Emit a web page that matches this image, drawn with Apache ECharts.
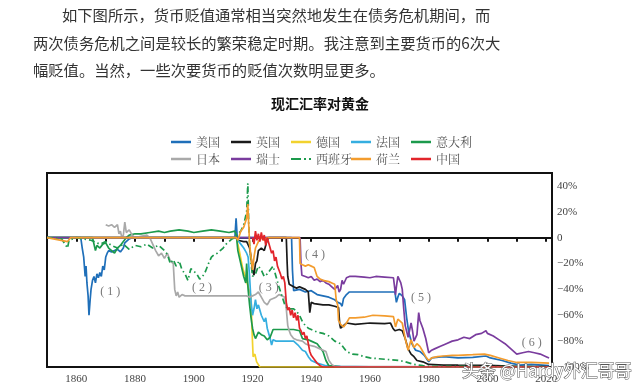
<!DOCTYPE html>
<html><head><meta charset="utf-8">
<script src="https://cdn.jsdelivr.net/npm/echarts@6/dist/echarts.min.js"></script>
<style>html,body{margin:0;padding:0;background:#fff}#c{width:640px;height:391px}</style>
</head><body><div id="c"></div><script>
const paragraph = [
  '如下图所示，货币贬值通常相当突然地发生在债务危机期间，而',
  '两次债务危机之间是较长的繁荣稳定时期。我注意到主要货币的6次大',
  '幅贬值。当然，一些次要货币的贬值次数明显更多。'
];
const chartTitle = '现汇汇率对黄金';
const watermark = '头条 @Hardy外汇哥哥';
const xTickYears = [1850,1860,1870,1880,1890,1900,1910,1920,1930,1940,1950,1960,1970,1980,1990,2000,2010,2020];
const xLabelYears = [1860,1880,1900,1920,1940,1960,1980,2000,2020];
const yLabelValues = [-100,-80,-60,-40,-20,0,20,40];
const countries = ['美国','英国','德国','法国','意大利','日本','瑞士','西班牙','荷兰','中国'];

const usa = [[1850,0],[1861.5,0],[1862,-8],[1862.5,-15],[1863,-30],[1863.3,-22],[1863.6,-35],[1864,-45],[1864.3,-60],[1864.7,-48],[1865,-40],[1865.5,-33],[1866,-30],[1866.5,-35],[1867,-28],[1867.5,-31],[1868,-27],[1868.5,-30],[1869,-22],[1869.5,-25],[1870,-15],[1870.5,-12],[1871,-10],[1872,-11],[1873,-10],[1874,-9],[1875,-11],[1876,-8],[1876.5,-4],[1877,-3],[1878,-1],[1879,0],[1914,0],[1914.4,15],[1914.8,0],[1933.3,0],[1933.6,-25],[1934,-41],[1936,-40],[1938,-42],[1940,-41],[1942,-44],[1944,-45],[1946,-46],[1948,-48],[1949,-50],[1950,-51],[1950.5,-53],[1951,-47],[1952,-44],[1953,-42],[1958,-42],[1963,-42],[1968.5,-42],[1969,-50],[1969.5,-46],[1970,-43],[1971,-45],[1971.8,-48],[1972.5,-62],[1973.2,-73],[1974.3,-82],[1975.5,-87],[1977,-88],[1978.5,-91],[1980,-96],[1981,-93],[1985,-92],[1990,-93],[1995,-92.5],[1999.5,-91.5],[2001,-93],[2005,-95],[2008,-97],[2011,-98.5],[2015,-98],[2021,-99]];
const uk = [[1850,0],[1914.5,0],[1915,-2],[1917,-3],[1918,-3],[1919,-8],[1919.5,-15],[1920,-25],[1920.5,-29],[1921,-20],[1921.5,-18],[1922,-10],[1923,-8],[1924,-10],[1925,-2],[1925.5,0],[1931.5,0],[1931.8,-20],[1932,-30],[1932.5,-36],[1933,-35],[1934,-38],[1935,-39],[1936,-38],[1937,-39],[1938,-40],[1939,-42],[1939.5,-58],[1940,-50],[1941,-51],[1944,-52],[1946,-52],[1948,-53],[1949.3,-54],[1949.7,-67],[1950,-70],[1951,-68],[1952,-66],[1955,-67],[1960,-66],[1965,-66.5],[1967,-66],[1967.8,-70],[1968.5,-72],[1969,-71],[1970,-71],[1971,-72],[1972,-78],[1973,-86],[1974,-90],[1975,-92],[1976,-95],[1978,-96],[1980,-98],[1985,-98.5],[1990,-98.6],[2000,-98.7],[2010,-99.5],[2021,-99.6]];
const germany = [[1850,0],[1914.5,0],[1915.5,-10],[1916.5,-22],[1917.5,-30],[1918.5,-38],[1919.5,-45],[1919.8,-70],[1920.2,-92],[1920.8,-90],[1921.4,-96],[1922.5,-100],[2021,-100]];
const france = [[1850,0],[1914.5,0],[1915,-2],[1916,-5],[1917,-8],[1918,-12],[1918.5,-15],[1919,-30],[1919.5,-50],[1920,-60],[1920.5,-55],[1921,-48],[1921.5,-55],[1922,-52],[1923,-60],[1924,-65],[1924.5,-62],[1925,-70],[1926,-78],[1926.5,-83],[1927,-79],[1928,-80],[1934,-80],[1935.5,-83],[1937,-87],[1938,-88],[1939,-92],[1940,-95],[1942,-97],[1945,-99],[1950,-99.5],[1960,-99.8],[2021,-99.9]];
const italy = [[1850,0],[1865.5,0],[1866,-5],[1866.5,-10],[1867,-6],[1868,-8],[1869,-5],[1870,-4],[1871,-8],[1872,-10],[1873,-12],[1874,-8],[1875,-6],[1876,-3],[1877,0],[1878,2],[1880,3],[1882,3],[1885,4],[1888,5],[1890,4],[1892,5],[1895,6],[1898,5],[1900,4],[1903,5],[1906,6],[1909,5],[1912,4],[1914,5],[1914.5,2],[1915,-10],[1916,-20],[1917,-30],[1917.7,-35],[1918,-20],[1918.5,-40],[1919,-52],[1919.5,-62],[1920,-70],[1920.5,-75],[1921,-78],[1922,-73],[1923,-75],[1924,-76],[1925,-79],[1926,-77],[1927,-71],[1930,-71],[1934,-71],[1936,-72],[1937,-78],[1939,-79],[1940,-80],[1942,-82],[1944,-88],[1945,-95],[1946,-99],[1950,-99.8],[2021,-99.9]];
const japan = [[1870,10],[1871,9],[1872,10],[1873,8],[1874,10],[1874.5,3],[1875,5],[1875.5,0],[1876,2],[1876.5,12],[1877,4],[1878,6],[1879,2],[1880,0],[1882,1],[1884,2],[1885,0],[1886,-5],[1887,-10],[1888,-14],[1889,-12],[1890,-16],[1891,-12],[1892,-18],[1893,-20],[1893.5,-40],[1894,-45],[1894.5,-42],[1895,-46],[1896,-44],[1897,-45],[1918,-45],[1918.5,-44],[1919,-46],[1920,-45],[1921,-44],[1922,-42],[1923,-46],[1924,-50],[1925,-52],[1926,-48],[1927,-47],[1928,-46],[1929,-44],[1930,-45],[1931,-46],[1931.5,-55],[1932,-68],[1932.5,-72],[1933,-75],[1934,-78],[1935,-79],[1937,-80],[1938,-82],[1939,-83],[1941,-84],[1943,-86],[1945,-88],[1946,-95],[1947,-98],[1948,-99.5],[2021,-100]];
const switzerland = [[1850,0],[1936.2,0],[1936.5,-20],[1936.8,-29],[1937,-28],[1938,-30],[1939,-31],[1940,-30],[1941,-33],[1942,-32],[1943,-34],[1944,-33],[1945,-35],[1946,-36],[1947,-38],[1948,-40],[1949,-37],[1949.5,-42],[1950,-40],[1950.5,-33],[1951,-36],[1952,-31],[1953,-30],[1955,-30],[1958,-30.5],[1960,-31],[1962,-30],[1965,-30.5],[1968,-31],[1968.7,-44],[1969,-38],[1969.5,-30],[1970,-31],[1970.5,-35],[1971,-40],[1971.5,-55],[1972,-68],[1973,-77],[1974,-66],[1974.5,-72],[1975,-80],[1976,-75],[1976.6,-58],[1977,-64],[1978,-70],[1979,-78],[1980,-89],[1981,-87],[1982,-86],[1984,-84],[1986,-82],[1988,-80],[1990,-79],[1992,-77],[1994,-78],[1996,-75],[1998,-74],[1999.5,-72],[2000,-74],[2002,-76],[2004,-79],[2006,-82],[2008,-86],[2010,-90],[2012,-89],[2014,-88],[2016,-89],[2018,-90],[2020,-92],[2021,-93]];
const spain = [[1850,0],[1855,-1],[1857,-8],[1857.5,-2],[1860,0],[1865,-2],[1868,-5],[1870,-3],[1872,-6],[1874,-8],[1876,-5],[1878,-9],[1880,-6],[1882,-7],[1884,-5],[1886,-8],[1888,-6],[1890,-10],[1891,-13],[1892,-20],[1893,-17],[1894,-22],[1895,-18],[1896,-25],[1897,-28],[1898,-33],[1899,-24],[1900,-26],[1901,-28],[1902,-32],[1903,-30],[1904,-26],[1905,-20],[1906,-15],[1907,-13],[1908,-12],[1909,-10],[1910,-8],[1911,-5],[1912,-3],[1913,-1],[1914,0],[1915,3],[1916,5],[1917,10],[1918,20],[1918.4,42],[1918.7,10],[1919,-5],[1919.5,-20],[1920,-30],[1921,-28],[1922,-22],[1923,-25],[1924,-30],[1925,-28],[1926,-25],[1927,-22],[1928,-30],[1929,-38],[1930,-45],[1931,-52],[1932,-55],[1934,-55],[1935,-57],[1936,-60],[1937,-65],[1938,-68],[1939,-70],[1940,-71],[1942,-73],[1944,-74],[1946,-76],[1948,-80],[1950,-82],[1952,-88],[1954,-90],[1956,-90.5],[1958,-92],[1960,-93],[1965,-94],[1970,-95],[1972,-96],[1975,-98],[1978,-99],[1980,-99.5],[2021,-99.8]];
const netherlands = [[1850,0],[1857,-3],[1858,0],[1914.5,0],[1915,-2],[1916,5],[1917,8],[1918,15],[1918.4,26],[1918.7,10],[1919,-5],[1919.5,-15],[1920,-25],[1920.5,-15],[1921,-8],[1922,-3],[1923,0],[1924,-2],[1925,0],[1936,0],[1936.2,-20],[1937,-21],[1938,-22],[1939,-21],[1940,-22],[1941,-23],[1942,-30],[1943,-32],[1944,-33],[1946,-34],[1947,-35],[1948,-36],[1948.5,-48],[1949,-52],[1949.3,-64],[1950,-67],[1951,-69],[1952,-66],[1953,-62],[1955,-62],[1958,-61.5],[1961,-60],[1965,-60.5],[1968,-61],[1968.7,-69],[1969.5,-63],[1970,-62],[1971,-66],[1972,-78],[1973,-87],[1974,-79],[1975,-85],[1976,-82],[1977,-84],[1978,-88],[1979,-92],[1980,-95],[1981,-93],[1983,-92],[1985,-91.5],[1988,-91],[1990,-91],[1995,-90.5],[1999,-90],[2001,-91],[2004,-93],[2007,-95],[2010,-96.5],[2015,-96.5],[2021,-97]];
const china = [[1920,0],[1920.5,-5],[1921,5],[1921.5,-2],[1922,3],[1922.5,-3],[1923,4],[1923.5,-2],[1924,2],[1924.5,-6],[1925,0],[1925.5,-4],[1926,-8],[1926.5,-12],[1927,-10],[1927.5,-18],[1928,-15],[1928.5,-22],[1929,-25],[1929.5,-28],[1930,-32],[1930.5,-30],[1931,-35],[1931.5,-50],[1932,-56],[1932.5,-54],[1933,-60],[1933.5,-56],[1934,-62],[1934.5,-58],[1935,-64],[1935.5,-60],[1936,-70],[1936.5,-72],[1937,-75],[1937.5,-73],[1938,-78],[1938.5,-76],[1939,-82],[1939.5,-88],[1940,-91],[1941,-94],[1942,-97],[1943,-99],[1944,-100],[2021,-100]];
const annotations = [[1871.5,-42,'( 1 )'],[1902.8,-38.5,'( 2 )'],[1925.5,-38.5,'( 3 )'],[1941.3,-13.4,'( 4 )'],[1977.4,-46.6,'( 5 )'],[2015.1,-81.4,'( 6 )']];

const seriesData = [usa, uk, germany, france, italy, japan, switzerland, spain, netherlands, china];
const colors = ['#1f6fb9','#1a1a1a','#f2d22e','#35aee0','#1c9a4c','#a9a9a9','#7a3c9e','#1c9a4c','#f39c2e','#e2252b'];

const serif = '"Liberation Serif","DejaVu Serif",serif';
const cjk = '"Noto Sans CJK SC",sans-serif';

const series = countries.map((name, i) => ({
  name, type: 'line', data: seriesData[i], symbol: 'none', showSymbol: false,
  xAxisIndex: 0, yAxisIndex: 0, animation: false,
  lineStyle: { color: colors[i], width: 1.7, type: name === '西班牙' ? [6, 3, 1.5, 3] : 'solid' },
  itemStyle: { color: colors[i] }
}));
series.push({
  type: 'scatter', data: annotations, symbolSize: 0, silent: true, animation: false,
  label: { show: true, position: 'inside', formatter: p => p.data[2], fontFamily: serif, fontSize: 12, color: '#555' }
});

const legends = countries.map((name, i) => ({
  left: 171 + 60 * (i % 5), top: i < 5 ? 136 : 153,
  data: [{ name, icon: name === '西班牙' ? 'path://M0,0h10v2h-10zM13,0h2v2h-2zM18,0h2v2h-2z' : 'rect' }],
  itemWidth: 20, itemHeight: 2.5, itemGap: 0, padding: 0, selectedMode: false,
  textStyle: { fontFamily: '"Noto Serif CJK SC",' + serif, fontSize: 12, color: '#555' }
}));

const graphics = paragraph.map((t, i) => ({
  type: 'text', x: i === 0 ? 62 : 33, y: [15, 43, 70][i], silent: true,
  style: { text: t, font: '15.3px ' + cjk, fill: '#333', verticalAlign: 'middle', align: 'left' }
}));
graphics.push({
  type: 'text', x: 320, y: 104, silent: true,
  style: { text: chartTitle, font: 'bold 14px ' + cjk, fill: '#111', verticalAlign: 'middle', align: 'center' }
});
graphics.push({
  type: 'text', x: 462, y: 371, silent: true, z: 100,
  style: { text: watermark, font: '17px ' + cjk, fill: '#ffffff', stroke: '#555', lineWidth: 1, verticalAlign: 'middle', align: 'left' }
});

const chart = echarts.init(document.getElementById('c'), null, { renderer: 'canvas' });
chart.setOption({
  animation: false,
  backgroundColor: '#fff',
  grid: { left: 47, right: 88, top: 173, bottom: 24, show: true, borderColor: '#111', borderWidth: 2, backgroundColor: 'transparent' },
  legend: legends,
  xAxis: [
    { type: 'value', min: 1850, max: 2022, position: 'top',
      axisLine: { show: true, onZero: true, lineStyle: { color: '#111', width: 2 } },
      axisTick: { show: true, inside: true, length: 4, customValues: xTickYears, lineStyle: { color: '#111', width: 2 } },
      axisLabel: { show: false }, splitLine: { show: false } },
    { type: 'value', min: 1850, max: 2022, position: 'bottom',
      axisLine: { show: false, onZero: false }, axisTick: { show: false },
      axisLabel: { show: true, customValues: xLabelYears, margin: 7, fontFamily: serif, fontSize: 11, color: '#444', formatter: v => String(v) },
      splitLine: { show: false } }
  ],
  yAxis: [{
    type: 'value', min: -100, max: 50, position: 'right',
    axisLine: { show: false }, axisTick: { show: false }, splitLine: { show: false },
    axisLabel: { show: true, customValues: yLabelValues, margin: 5, fontFamily: serif, fontSize: 11, color: '#444',
      formatter: v => v === 0 ? '0' : (v < 0 ? '\u2212' + Math.abs(v) + '%' : v + '%') }
  }],
  graphic: graphics,
  series
});
</script></body></html>
